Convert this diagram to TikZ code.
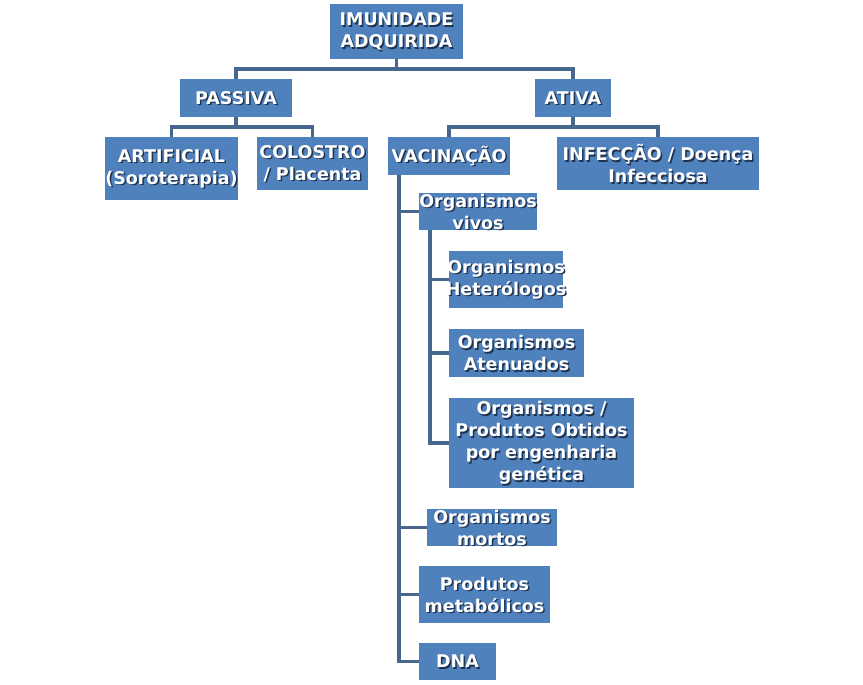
\documentclass[tikz,border=0pt]{standalone}
\usepackage{fontspec}
\setmainfont{DejaVu Sans}
\usetikzlibrary{calc}
\definecolor{boxblue}{HTML}{4F81BD}
\definecolor{linkblue}{HTML}{46688F}
\definecolor{shadowc}{HTML}{1F3350}
\tikzset{
  box/.style={fill=boxblue, inner sep=0pt},
  boxtxt/.style={inner sep=0pt, align=center, text=white,
    font=\fontsize{17.5}{22}\selectfont\bfseries},
  shadowtxt/.style={boxtxt, text=shadowc},
  link/.style={draw=linkblue, line width=3.5pt}
}
% \bx{name}{x}{y}{w}{h}{text}
\newcommand{\bx}[6]{%
  \node[box, minimum width=#4pt, minimum height=#5pt] (#1) at (#2,#3) {};
  \node[shadowtxt] (#1-s) at (#2+1.5,#3+1.5) {#6};
  \node[boxtxt] (#1-t) at (#2,#3) {#6};
}
\begin{document}
\begin{tikzpicture}[x=1pt,y=-1pt]
\useasboundingbox (0,0) rectangle (863,685);
\fill[white] (0,0) rectangle (863,685);
\coordinate (b1) at (396.5,69);
\coordinate (b2) at (236,127);
\coordinate (b3) at (573,127);
\coordinate (vt) at (399,175);
\coordinate (wt) at (430,230);

\bx{imu}{396.5}{31.5}{133}{55}{IMUNIDADE\\ADQUIRIDA}
\bx{pas}{236}{98}{112}{38}{PASSIVA}
\bx{ati}{573}{98}{76}{38}{ATIVA}
\bx{art}{171.5}{168.5}{133}{63}{ARTIFICIAL\\(Soroterapia)}
\bx{col}{312.5}{163.5}{111}{53}{COLOSTRO\\/ Placenta}
\bx{vac}{449}{156}{122}{38}{VACINAÇÃO}
\bx{inf}{658}{163.5}{202}{53}{INFECÇÃO / Doença\\Infecciosa}
\bx{viv}{478}{211.5}{118}{37}{Organismos\\vivos}
\bx{het}{506}{279.5}{114}{57}{Organismos\\Heterólogos}
\bx{ate}{516.5}{353}{135}{48}{Organismos\\Atenuados}
\bx{gen}{541.5}{443}{185}{90}{Organismos /\\Produtos Obtidos\\por engenharia\\genética}
\bx{mor}{492}{527.5}{130}{37}{Organismos\\mortos}
\bx{met}{484.5}{594.5}{131}{57}{Produtos\\metabólicos}
\bx{dna}{457.5}{661.5}{77}{37}{DNA}

\draw[link] (imu.south) -- (b1);
\draw[link] (pas.north) -- (pas.north |- b1) -- (ati.north |- b1) -- (ati.north);
\draw[link] (pas.south) -- (b2);
\draw[link] (art.north) -- (art.north |- b2) -- (col.north |- b2) -- (col.north);
\draw[link] (ati.south) -- (b3);
\draw[link] (vac.north) -- (vac.north |- b3) -- (inf.north |- b3) -- (inf.north);
\draw[link] (vt) |- (dna.west);
\draw[link] (vt |- viv.west) -- (viv.west);
\draw[link] (vt |- mor.west) -- (mor.west);
\draw[link] (vt |- met.west) -- (met.west);
\draw[link] (wt) |- (gen.west);
\draw[link] (wt |- het.west) -- (het.west);
\draw[link] (wt |- ate.west) -- (ate.west);
\end{tikzpicture}
\end{document}
